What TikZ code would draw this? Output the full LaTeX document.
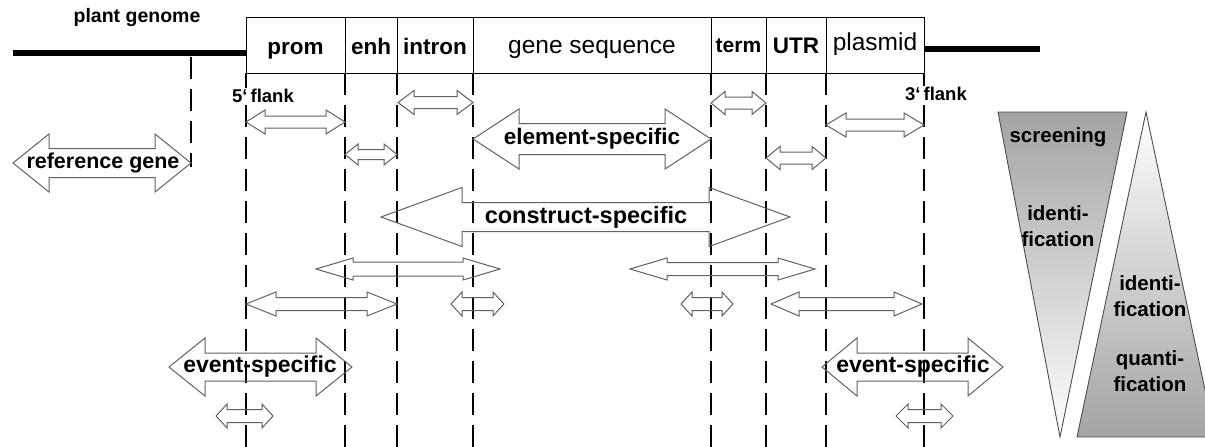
\documentclass[tikz,border=0pt]{standalone}
\usepackage{fontspec}
\setmainfont{Liberation Sans}
\newcommand{\dblarrow}[6]{%
  \draw[arrowsty] (#1,#3) -- ({#1+#6},{#3-#4}) -- ({#1+#6},{#3-#5}) -- ({#2-#6},{#3-#5})
    -- ({#2-#6},{#3-#4}) -- (#2,#3) -- ({#2-#6},{#3+#4}) -- ({#2-#6},{#3+#5})
    -- ({#1+#6},{#3+#5}) -- ({#1+#6},{#3+#4}) -- cycle;}
\tikzset{
  arrowsty/.style={draw=black!62, line width=1pt, line join=miter},
  dashl/.style={line width=2.7pt, dash pattern=on 22pt off 10pt},
  genome/.style={line width=5.5pt},
  cell/.style={draw=black, line width=1pt, fill=white, minimum height=56pt, inner sep=0pt, anchor=center, text depth=0pt},
  lbl/.style={font=\fontsize{22.5}{26}\selectfont\bfseries, inner sep=0pt},
  lblr/.style={font=\fontsize{24.5}{26}\selectfont, inner sep=0pt},
  small/.style={font=\fontsize{18.5}{22}\selectfont\bfseries, inner sep=0pt},
  tri/.style={draw=black!70, line width=0.9pt},
  trilbl/.style={font=\fontsize{20.5}{26}\selectfont\bfseries, align=center, inner sep=0pt}
}
\begin{document}
\begin{tikzpicture}[x=1pt,y=-1pt]
\useasboundingbox (0,0) rectangle (1205,447);
\clip (0,0) rectangle (1205,447);
% genome lines
\coordinate (gl0) at (13,53);
\coordinate (gl1) at (246,53);
\coordinate (gr0) at (924,49);
\coordinate (gr1) at (1040,49);
\draw[genome] (gl0) -- (gl1);
\draw[genome] (gr0) -- (gr1);
\node[font=\fontsize{19.5}{22}\selectfont\bfseries, inner sep=0pt] (pg) at (137,18) {plant genome};
% dashed lines
\coordinate (r0) at (191,57); \coordinate (r1) at (191,167);
\draw[dashl] (r0) -- (r1);
\foreach \x in {246,345,397,473,711,766,826,924}{
  \draw[dashl] (\x,73) -- (\x,447);
}
% construct box
\node[cell, minimum width=99pt, lbl, text height=18pt] (prom) at (295.5,45) {prom};
\node[cell, minimum width=52pt, lbl, text height=18pt] (enh) at (371,45) {enh};
\node[cell, minimum width=76pt, lbl, text height=18pt] (intron) at (435,45) {intron};
\node[cell, minimum width=238pt, lblr, text height=16pt] (gene) at (592,45) {gene sequence};
\node[cell, minimum width=55pt, lbl, font=\fontsize{21}{26}\selectfont\bfseries, text height=15pt] (term) at (738.5,45) {term};
\node[cell, minimum width=60pt, lbl, text height=16pt] (utr) at (796,45) {UTR};
\node[cell, minimum width=98pt, lblr, text height=11pt] (plasmid) at (875,45) {plasmid};
% flank labels
\node[small, fill=white, inner sep=1pt] (f5) at (263,96) {5‘\hspace{3pt}flank};
\node[small, fill=white, inner sep=1pt] (f3) at (936,94) {3‘\hspace{3pt}flank};
% arrows
\dblarrow{13}{191}{163}{29}{14.5}{36}
\dblarrow{246}{345}{122}{12}{6}{19}
\dblarrow{398}{473}{102.5}{12}{6}{16}
\dblarrow{345}{397}{154.5}{10.5}{5}{13}
\dblarrow{473}{711}{139}{30}{15.5}{46}
\dblarrow{711}{766}{103}{11.5}{6}{14}
\dblarrow{766}{826}{158}{11.5}{6}{14}
\dblarrow{826}{924}{125}{12}{6}{20}
\dblarrow{381}{790}{217}{29.5}{14.5}{81}
\dblarrow{316}{500}{269}{11}{7}{37}
\dblarrow{630}{815}{269}{11}{6.5}{37}
\dblarrow{246}{397}{304}{12}{6.5}{30}
\dblarrow{451}{504}{304}{12}{6.5}{11}
\dblarrow{681}{733}{304}{12}{6.5}{11}
\dblarrow{771}{922}{304}{12}{6.5}{28}
\dblarrow{169}{352}{367}{29}{14}{36}
\dblarrow{822}{1003}{367}{29}{14}{35}
\dblarrow{216}{273}{416}{12}{6.5}{11}
\dblarrow{896}{953}{416}{12}{6.5}{12}
% arrow labels
\node[lbl, font=\fontsize{21.5}{26}\selectfont\bfseries] (refg) at (103,163) {reference gene};
\node[lbl] (elem) at (592,139) {element-specific};
\node[lbl, font=\fontsize{23.5}{26}\selectfont\bfseries] (cons) at (586,217) {construct-specific};
\node[lbl, font=\fontsize{23}{26}\selectfont\bfseries] (evl) at (260,367) {event-specific};
\node[lbl, font=\fontsize{23}{26}\selectfont\bfseries] (evr) at (913,367) {event-specific};
% triangles
\coordinate (a1) at (998,112); \coordinate (a2) at (1127,112); \coordinate (a3) at (1060,437);
\shade[top color=black!36, bottom color=white] (a1) -- (a2) -- (a3) -- cycle;
\draw[tri] (a1) -- (a2) -- (a3) -- cycle;
\coordinate (b1) at (1146,112); \coordinate (b2) at (1215,437); \coordinate (b3) at (1077,437);
\shade[top color=white, bottom color=black!36] (b1) -- (b2) -- (b3) -- cycle;
\draw[tri] (b1) -- (b2) -- (b3) -- cycle;
\node[trilbl] (scr) at (1058,137) {screening};
\node[trilbl] (id1) at (1058,226) {identi-\\fication};
\node[trilbl] (id2) at (1150,296) {identi-\\fication};
\node[trilbl] (qua) at (1150,371) {quanti-\\fication};
\end{tikzpicture}
\end{document}
